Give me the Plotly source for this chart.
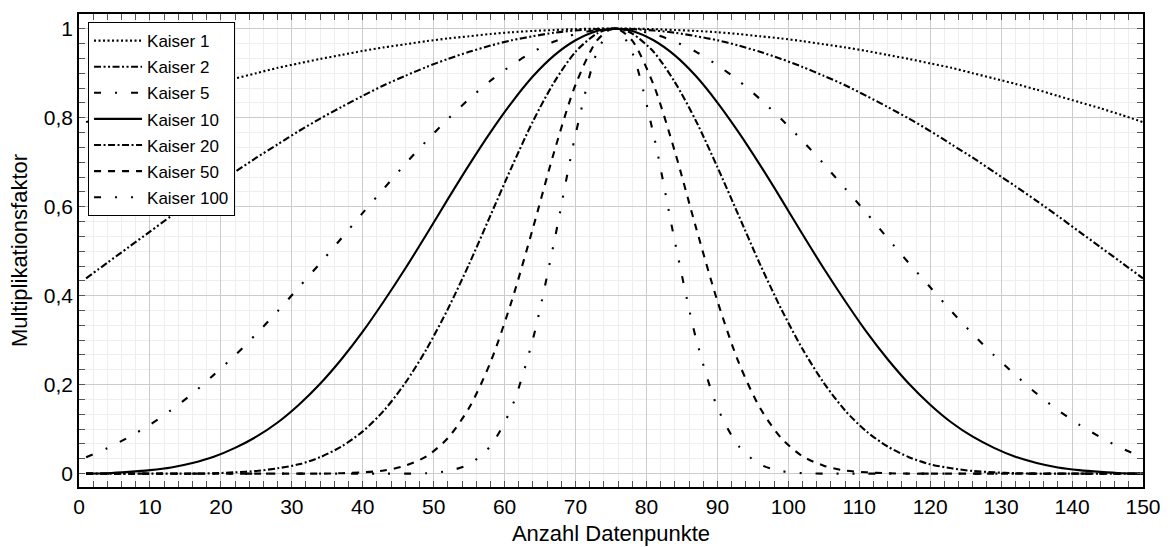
import plotly.graph_objects as go

# Sample positions (data point index)
x_points = [1, 4, 7, 10, 13, 16, 19, 22, 25, 28, 31, 34, 37, 40, 43, 46, 49, 52, 55, 58,
            61, 64, 67, 70, 73, 75, 76, 78, 81, 84, 87, 90, 93, 96, 99, 102, 105, 108, 111,
            114, 117, 120, 123, 126, 129, 132, 135, 138, 141, 144, 147, 150]

kaiser_1 = [0.790, 0.806, 0.821, 0.835, 0.849, 0.863, 0.876, 0.888, 0.900, 0.912, 0.922, 0.932, 0.941,
            0.950, 0.958, 0.965, 0.972, 0.978, 0.983, 0.988, 0.992, 0.995, 0.997, 0.999, 1.000, 1.000,
            1.000, 1.000, 0.999, 0.997, 0.995, 0.992, 0.988, 0.983, 0.978, 0.972, 0.965, 0.958, 0.950,
            0.941, 0.932, 0.922, 0.912, 0.900, 0.888, 0.876, 0.863, 0.849, 0.835, 0.821, 0.806, 0.790]

kaiser_2 = [0.439, 0.474, 0.509, 0.544, 0.579, 0.613, 0.646, 0.678, 0.710, 0.740, 0.770, 0.798, 0.824,
            0.849, 0.873, 0.894, 0.914, 0.932, 0.948, 0.962, 0.974, 0.983, 0.991, 0.996, 0.999, 1.000,
            1.000, 0.999, 0.996, 0.991, 0.983, 0.974, 0.962, 0.948, 0.932, 0.914, 0.894, 0.873, 0.849,
            0.824, 0.798, 0.770, 0.740, 0.710, 0.678, 0.646, 0.613, 0.579, 0.544, 0.509, 0.474, 0.439]

kaiser_5 = [0.037, 0.057, 0.082, 0.110, 0.143, 0.180, 0.222, 0.266, 0.314, 0.365, 0.419, 0.473, 0.529,
            0.586, 0.641, 0.696, 0.748, 0.797, 0.842, 0.883, 0.918, 0.948, 0.971, 0.988, 0.997, 1.000,
            1.000, 0.997, 0.988, 0.971, 0.948, 0.918, 0.883, 0.842, 0.797, 0.748, 0.696, 0.641, 0.586,
            0.529, 0.473, 0.419, 0.365, 0.314, 0.266, 0.222, 0.180, 0.143, 0.110, 0.082, 0.057, 0.037]

kaiser_10 = [0.000, 0.001, 0.004, 0.008, 0.014, 0.024, 0.038, 0.058, 0.083, 0.115, 0.155, 0.202, 0.257,
             0.319, 0.388, 0.461, 0.538, 0.617, 0.694, 0.767, 0.834, 0.893, 0.940, 0.974, 0.995, 1.000,
             1.000, 0.995, 0.974, 0.940, 0.893, 0.834, 0.767, 0.694, 0.617, 0.538, 0.461, 0.388, 0.319,
             0.257, 0.202, 0.155, 0.115, 0.083, 0.058, 0.038, 0.024, 0.014, 0.008, 0.004, 0.001, 0.000]

kaiser_20 = [0.000, 0.000, 0.000, 0.000, 0.000, 0.000, 0.001, 0.003, 0.006, 0.012, 0.021, 0.037, 0.061,
             0.095, 0.142, 0.204, 0.280, 0.370, 0.471, 0.580, 0.689, 0.792, 0.880, 0.948, 0.989, 1.000,
             1.000, 0.989, 0.948, 0.880, 0.792, 0.689, 0.580, 0.471, 0.370, 0.280, 0.204, 0.142, 0.095,
             0.061, 0.037, 0.021, 0.012, 0.006, 0.003, 0.001, 0.000, 0.000, 0.000, 0.000, 0.000, 0.000]

kaiser_50 = [0.000, 0.000, 0.000, 0.000, 0.000, 0.000, 0.000, 0.000, 0.000, 0.000, 0.000, 0.000, 0.001,
             0.003, 0.007, 0.018, 0.039, 0.080, 0.148, 0.250, 0.388, 0.552, 0.724, 0.874, 0.973, 0.999,
             0.999, 0.973, 0.874, 0.724, 0.552, 0.388, 0.250, 0.148, 0.080, 0.039, 0.018, 0.007, 0.003,
             0.001, 0.000, 0.000, 0.000, 0.000, 0.000, 0.000, 0.000, 0.000, 0.000, 0.000, 0.000, 0.000]

kaiser_100 = [0.000, 0.000, 0.000, 0.000, 0.000, 0.000, 0.000, 0.000, 0.000, 0.000, 0.000, 0.000, 0.000,
              0.000, 0.000, 0.000, 0.001, 0.006, 0.021, 0.062, 0.149, 0.303, 0.522, 0.762, 0.946, 0.998,
              0.998, 0.946, 0.762, 0.522, 0.303, 0.149, 0.062, 0.021, 0.006, 0.001, 0.000, 0.000, 0.000,
              0.000, 0.000, 0.000, 0.000, 0.000, 0.000, 0.000, 0.000, 0.000, 0.000, 0.000, 0.000, 0.000]

series_names = ["Kaiser 1", "Kaiser 2", "Kaiser 5", "Kaiser 10", "Kaiser 20", "Kaiser 50", "Kaiser 100"]
series_values = [kaiser_1, kaiser_2, kaiser_5, kaiser_10, kaiser_20, kaiser_50, kaiser_100]
series_dashes = [
    "2px,2.5px",                            # densely dotted
    "7px,2.5px,2px,2.5px,2px,2.5px",        # densely dash dot dot
    "7px,14px,2px,14px",                    # loosely dash dot
    "solid",
    "7px,2.5px,2px,2.5px",                  # densely dash dot
    "7px,7px",                              # dashed
    "7px,14px,2px,14px,2px,14px",           # loosely dash dot dot
]

y_tickvals = [0, 0.2, 0.4, 0.6, 0.8, 1]
y_ticktext = ["0", "0,2", "0,4", "0,6", "0,8", "1"]

FONT = "Liberation Sans, Arial, sans-serif"

fig = go.Figure()
for name, vals, dash in zip(series_names, series_values, series_dashes):
    fig.add_trace(go.Scatter(
        x=x_points, y=vals, mode="lines", name=name, legendgroup=name,
        line=dict(color="black", width=2.1, dash=dash, shape="spline", smoothing=0.8),
    ))

axis_common = dict(
    showline=True, linecolor="black", linewidth=1.5, mirror="ticks",
    ticks="inside", ticklen=6, tickwidth=1, tickcolor="#555555",
    showgrid=True, gridcolor="#cccccc", gridwidth=1.2,
    zeroline=False, automargin=False,
    tickfont=dict(family=FONT, size=21, color="black"),
)

fig.update_xaxes(
    range=[0, 150], tick0=0, dtick=10,
    minor=dict(dtick=2, tick0=0, ticks="inside", ticklen=6, tickcolor="#555555",
               showgrid=True, gridcolor="#eeeeee", gridwidth=1),
    title=dict(text="Anzahl Datenpunkte", font=dict(family=FONT, size=22, color="black"), standoff=9),
    **axis_common,
)
fig.update_yaxes(
    range=[-0.03, 1.033], tickmode="array", tickvals=y_tickvals, ticktext=y_ticktext,
    minor=dict(dtick=1 / 30, tick0=0, ticks="inside", ticklen=6, tickcolor="#555555",
               showgrid=True, gridcolor="#eeeeee", gridwidth=1),
    title=dict(text="Multiplikationsfaktor", font=dict(family=FONT, size=22, color="black"), standoff=10),
    **axis_common,
)

fig.update_layout(
    width=1170, height=547,
    margin=dict(l=79, r=27, t=14, b=60),
    paper_bgcolor="white", plot_bgcolor="white",
    font=dict(family=FONT, color="black"),
    legend=dict(
        x=0.0085, y=0.983, xanchor="left", yanchor="top",
        bgcolor="white", bordercolor="black", borderwidth=1,
        font=dict(family=FONT, size=17, color="black"),
        tracegroupgap=1, itemwidth=48,
    ),
)

fig.write_html("out.html")
